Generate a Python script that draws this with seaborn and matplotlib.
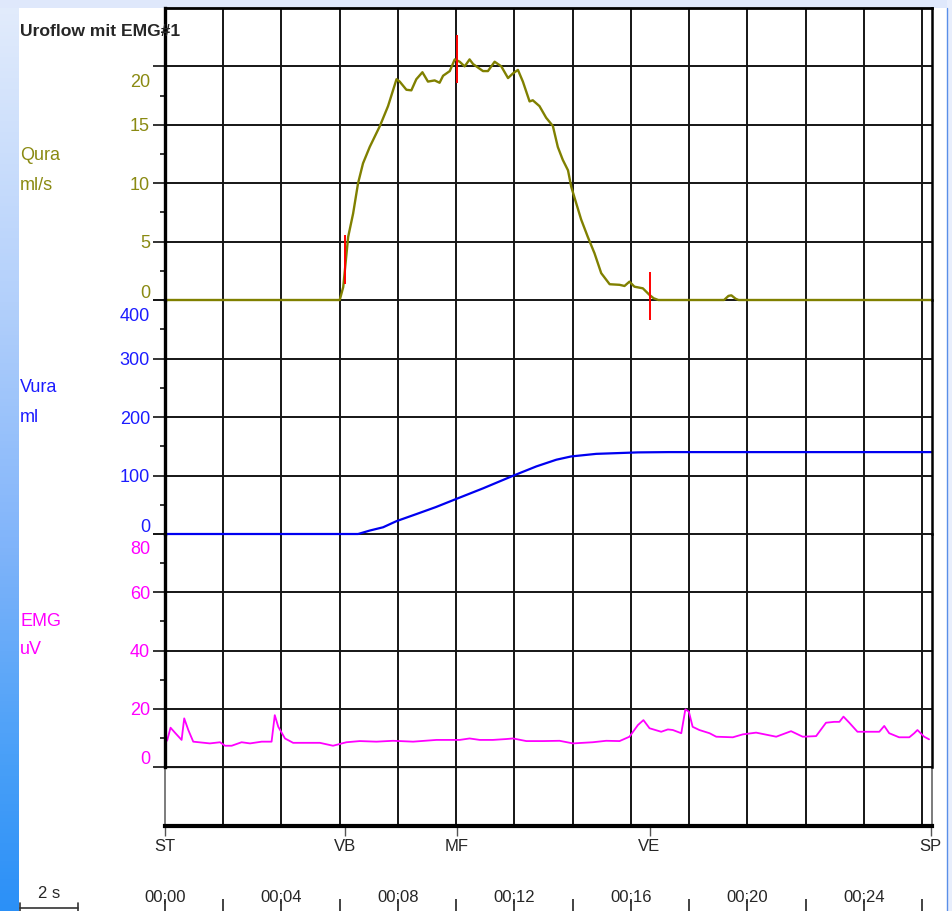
import numpy as np
import matplotlib
matplotlib.use('Agg')
import matplotlib.pyplot as plt
import matplotlib.transforms as mtransforms
from matplotlib.colors import LinearSegmentedColormap
from matplotlib.patches import Rectangle
import seaborn as sns

# Flow channel Qura (ml/s)
qura_t = [0, 6.0, 6.12, 6.29, 6.46, 6.63, 6.80, 7.03, 7.38, 7.66, 7.95, 8.06, 8.29, 8.46,
          8.63, 8.84, 9.03, 9.26, 9.43, 9.55, 9.78, 9.95, 10.12, 10.29, 10.46, 10.58, 10.92,
          11.09, 11.32, 11.55, 11.78, 11.95, 12.12, 12.29, 12.52, 12.63, 12.86, 13.09, 13.32,
          13.49, 13.66, 13.84, 13.95, 14.12, 14.29, 14.52, 14.75, 14.98, 15.27, 15.61, 15.78,
          15.95, 16.12, 16.41, 16.64, 16.78, 16.94, 19.2, 19.35, 19.45, 19.6, 19.7, 26.34]
qura = [0, 0, 1.1, 5.4, 7.4, 10.0, 11.7, 13.1, 14.9, 16.6, 18.9, 18.7, 18.0, 17.95,
        18.9, 19.5, 18.7, 18.8, 18.6, 19.2, 19.6, 20.6, 20.4, 20.0, 20.6, 20.2, 19.6,
        19.6, 20.4, 20.0, 19.0, 19.4, 19.7, 18.7, 17.0, 17.1, 16.6, 15.6, 14.9,
        13.1, 12.0, 11.1, 9.7, 8.3, 6.9, 5.4, 4.0, 2.3, 1.35, 1.3, 1.2,
        1.57, 1.14, 1.0, 0.43, 0.15, 0, 0, 0.35, 0.4, 0.1, 0, 0]

# Volume channel Vura (ml)
vura_t = [0, 6.63, 7.04, 7.49, 7.95, 8.63, 9.3, 9.98, 10.92, 11.95, 12.75, 13.44, 13.95,
          14.81, 16.24, 17.3, 26.34]
vura = [0, 0, 6, 11.5, 22, 34, 46, 59.5, 78, 99.5, 115.5, 127, 132.6,
        137, 139.5, 140, 140]

# EMG channel (uV)
emg_t = [0, 0.08, 0.19, 0.34, 0.57, 0.66, 0.80, 0.97, 1.54, 1.89, 2.06, 2.29, 2.63, 2.92,
         3.32, 3.66, 3.77, 3.89, 4.12, 4.40, 4.86, 5.32, 5.77, 6.23, 6.69, 7.26, 7.83, 8.52,
         9.32, 10.12, 10.46, 10.81, 11.26, 11.72, 11.95, 12.41, 12.98, 13.55, 14.01, 14.69,
         15.15, 15.61, 15.95, 16.24, 16.43, 16.64, 17.04, 17.27, 17.44, 17.73, 17.87, 17.99,
         18.12, 18.35, 18.70, 18.93, 19.50, 19.84, 20.30, 20.99, 21.50, 21.90, 22.36, 22.70,
         22.98, 23.16, 23.30, 23.50, 23.78, 24.07, 24.53, 24.70, 24.87, 25.21, 25.56, 25.73,
         25.84, 26.07, 26.24]
emg = [8.1, 9.3, 13.5, 11.8, 9.3, 16.7, 12.7, 8.7, 8.1, 8.5, 7.3, 7.3, 8.5, 8.1,
       8.7, 8.7, 17.8, 13.8, 9.8, 8.3, 8.3, 8.3, 7.3, 8.5, 8.9, 8.7, 9.0, 8.7,
       9.3, 9.3, 9.8, 9.3, 9.3, 9.6, 9.8, 8.9, 8.9, 9.0, 8.1, 8.5,
       9.0, 8.9, 10.4, 14.4, 16.1, 13.3, 12.1, 12.9, 12.7, 11.6, 19.8, 19.0,
       13.8, 12.7, 11.6, 10.4, 10.2, 11.2, 11.8, 10.4, 12.3, 10.4, 10.6, 15.2,
       15.5, 15.5, 17.3, 15.2, 12.1, 12.1, 12.1, 14.1, 11.6, 10.2, 10.2, 11.6,
       12.7, 10.4, 9.5]

# red flow markers (VB, MF, VE)
mark_t = [6.19, 10.02, 16.64]
mark_lo = [1.4, 18.6, -1.7]
mark_hi = [5.6, 22.7, 2.4]

# event labels under the chart
event_names = ['ST', 'VB', 'MF', 'VE', 'SP']
event_t = [0, 6.17, 10.02, 16.64, 26.3]

t_max = 26.34
grid_t = list(range(0, 27, 2))
time_ticks = list(range(0, 27, 2))
time_labels = ['00;%02d' % t if t % 4 == 0 else '' for t in time_ticks]

q_ticks, q_minor = [0, 5, 10, 15, 20], [2.5, 7.5, 12.5, 17.5]
v_ticks, v_minor = [0, 100, 200, 300, 400], [50, 150, 250, 350]
e_ticks, e_minor = [0, 20, 40, 60, 80], [10, 30, 50, 70]

OLIVE, OLIVE_TXT = '#808000', '#8a8a12'
BLUE, BLUE_TXT = '#0000f0', '#1c1cff'
MAGENTA = '#ff00ff'
GRID = '#151515'

sns.set_style('white')
plt.rcParams['font.family'] = ['Liberation Sans', 'DejaVu Sans']
plt.rcParams['font.size'] = 12

W, H = 952, 911
fig = plt.figure(figsize=(W / 100, H / 100), dpi=100)

# background decoration (gradient strip left, light band top/right)
bg = fig.add_axes([0, 0, 1, 1], zorder=-10)
bg.set_xlim(0, W)
bg.set_ylim(H, 0)
bg.axis('off')
cmap = LinearSegmentedColormap.from_list(
    'strip', [(0, '#e3ecfc'), (0.33, '#b3d0fb'), (0.6, '#80b4fa'),
              (0.83, '#4aa0f8'), (1, '#2b90f7')])
bg.imshow(np.linspace(0, 1, 256).reshape(-1, 1), cmap=cmap, aspect='auto',
          extent=[0, 19, H, 0])
bg.add_patch(Rectangle((0, 0), W, 8, color='#dfe8fb', lw=0))
bg.add_patch(Rectangle((947, 0), 5, H, color='#e8eefc', lw=0))
bg.plot([947, 947], [8, H], color='#5a8fe8', lw=1)


def px_axes(top, bottom):
    return fig.add_axes([165 / W, 1 - bottom / H, 767 / W, (bottom - top) / H])


def channel(ax, ylim, ticks, minor, color):
    ax.set_xlim(0, t_max)
    ax.set_ylim(*ylim)
    ax.set_xticks(grid_t)
    ax.tick_params(axis='x', length=0, labelbottom=False)
    ax.set_yticks(ticks)
    ax.set_yticks(minor, minor=True)
    ax.tick_params(axis='y', which='major', direction='out', length=8.6, width=1.2,
                   color='#111111', labelleft=False, left=True)
    ax.tick_params(axis='y', which='minor', direction='out', length=3.6, width=1.2,
                   color='#111111', left=True)
    ax.grid(True, which='major', color=GRID, lw=1.4)
    ax.set_axisbelow(True)
    for s in ['top', 'bottom']:
        ax.spines[s].set_visible(False)
    ax.spines['left'].set_linewidth(2.4)
    ax.spines['left'].set_color('black')
    ax.spines['right'].set_linewidth(1.8)
    ax.spines['right'].set_color('black')
    # tick labels, end values pushed inside the panel like the recorder does
    for i, v in enumerate(ticks):
        dy = 0
        if i == 0:
            dy = 9
        elif i == len(ticks) - 1:
            dy = -14
        tr = mtransforms.offset_copy(ax.get_yaxis_transform(), fig=fig, x=-15, y=dy,
                                     units='dots')
        ax.text(0, v, str(v), transform=tr, ha='right', va='center_baseline',
                color=color, fontsize=13, clip_on=False)


ax_q = px_axes(8, 300)
ax_v = px_axes(300, 534)
ax_e = px_axes(534, 767)
ax_b = px_axes(767, 826)
ax_q.set_zorder(4)
ax_v.set_zorder(3)
ax_e.set_zorder(2)
ax_b.set_zorder(1)

channel(ax_q, (0, 25), q_ticks, q_minor, OLIVE_TXT)
channel(ax_v, (0, 400), v_ticks, v_minor, BLUE_TXT)
channel(ax_e, (0, 80), e_ticks, e_minor, MAGENTA)
ax_q.spines['top'].set_visible(True)
ax_q.spines['top'].set_linewidth(2.0)
ax_q.spines['top'].set_color('black')

sns.lineplot(x=qura_t, y=qura, ax=ax_q, color=OLIVE, lw=1.7, estimator=None, sort=False,
             clip_on=False)
sns.lineplot(x=vura_t, y=vura, ax=ax_v, color=BLUE, lw=1.6, estimator=None, sort=False,
             clip_on=False)
sns.lineplot(x=emg_t, y=emg, ax=ax_e, color=MAGENTA, lw=1.3, estimator=None, sort=False)
ax_q.vlines(mark_t, mark_lo, mark_hi, colors='#ff0000', lw=1.4, clip_on=False, zorder=5)
for a in (ax_q, ax_v, ax_e):
    a.set_xlim(0, t_max)
ax_q.set_ylim(0, 25)
ax_v.set_ylim(0, 400)
ax_e.set_ylim(0, 80)

# empty bottom strip with event marks
ax_b.set_xlim(0, t_max)
ax_b.set_ylim(0, 1)
ax_b.set_yticks([])
ax_b.set_xticks(grid_t, minor=True)
ax_b.set_xticks(event_t, event_names)
ax_b.grid(True, which='minor', axis='x', color=GRID, lw=1.4)
ax_b.tick_params(axis='x', which='minor', length=0)
ax_b.tick_params(axis='x', which='major', direction='out', length=7.5, width=1,
                 color='#555555', pad=2, labelsize=12, bottom=True)
ax_b.spines['top'].set_linewidth(1.6)
ax_b.spines['top'].set_color(GRID)
ax_b.spines['bottom'].set_linewidth(3)
ax_b.spines['bottom'].set_color('black')
ax_b.spines['left'].set_linewidth(1.2)
ax_b.spines['left'].set_color('#666666')
ax_b.spines['right'].set_linewidth(1.2)
ax_b.spines['right'].set_color('#666666')

# time axis at the very bottom
ax_t = fig.add_axes([165 / W, 0, 767 / W, 12 / H])
ax_t.set_xlim(0, t_max)
ax_t.set_ylim(0, 1)
ax_t.patch.set_alpha(0)
for s in ax_t.spines.values():
    s.set_visible(False)
ax_t.set_yticks([])
ax_t.xaxis.tick_top()
ax_t.set_xticks(time_ticks, time_labels)
ax_t.tick_params(axis='x', direction='in', length=9, width=1.2, color='#222222',
                 pad=-4, labelsize=12)

# 2 s scale bar
px_per_s = 767 / t_max
x0, x1, yb = 20, 20 + 2 * px_per_s, 908
bg.plot([x0, x1], [yb, yb], color='#333333', lw=1.2)
bg.plot([x0, x0], [903, H], color='#333333', lw=1.2)
bg.plot([x1, x1], [903, H], color='#333333', lw=1.2)
bg.text((x0 + x1) / 2, 893, '2 s', ha='center', va='center', fontsize=12)

# titles and channel names
fig.text(20 / W, 1 - 31 / H, 'Uroflow mit EMG#1', fontsize=12.6, fontweight='bold',
         ha='left', va='center', zorder=20)
for txt, y, c in [('Qura', 155, OLIVE_TXT), ('ml/s', 185, OLIVE_TXT),
                  ('Vura', 388, BLUE_TXT), ('ml', 417, BLUE_TXT),
                  ('EMG', 621, MAGENTA), ('uV', 650, MAGENTA)]:
    fig.text(20 / W, 1 - y / H, txt, fontsize=13, color=c, ha='left', va='center')

fig.savefig('out.png', dpi=100)
